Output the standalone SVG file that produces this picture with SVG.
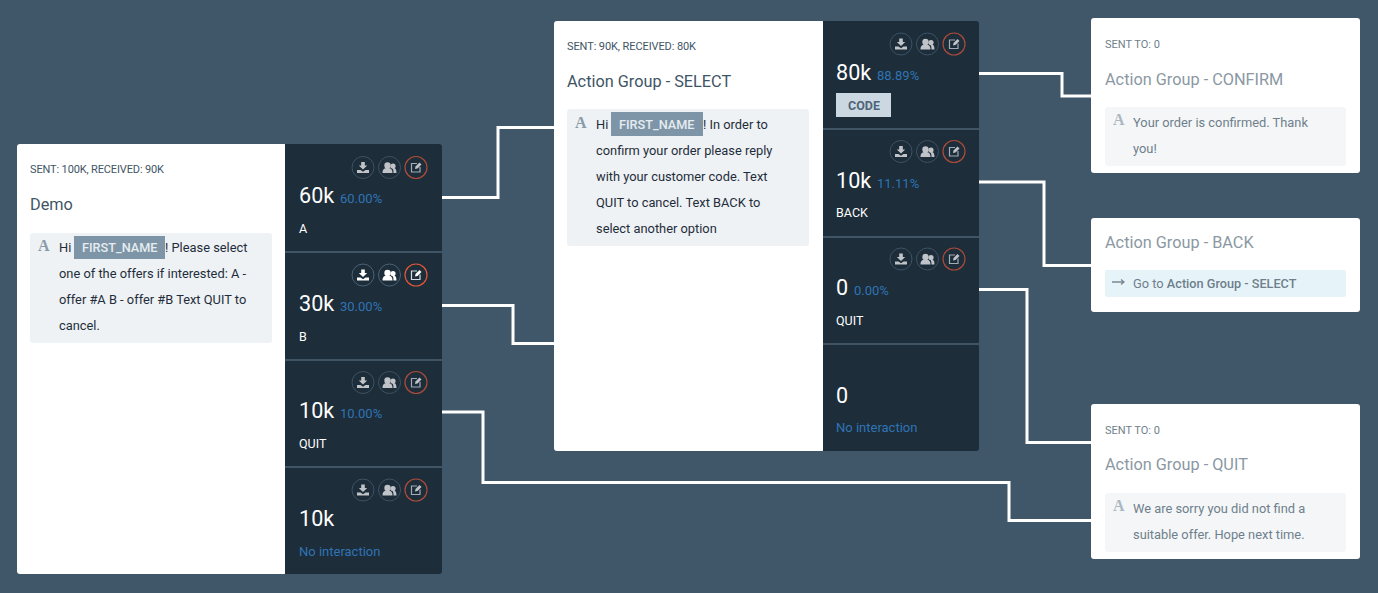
<svg xmlns="http://www.w3.org/2000/svg" width="1378" height="593" viewBox="0 0 1378 593">
<style>
text{font-family:Roboto,"Liberation Sans",sans-serif}
.sent{font-size:11px;fill:#3f5566}
.sentg{font-size:11px;fill:#6f7f8b}
.title{font-size:16.3px;fill:#3f5566}
.titleg{font-size:16.3px;fill:#8b98a3}
.body{font-size:12.85px;fill:#1f2d3a}
.bodyg{font-size:12.85px;fill:#6f7f8b}
.num{font-size:21.6px;fill:#fff}
.pct{font-size:13px;fill:#2f74b5}
.lab{font-size:12.5px;fill:#fff}
.noint{font-size:13px;fill:#2f74b5}
.tag{font-size:12.7px;font-weight:500;fill:#e6ecf0}
.a{font-family:"Liberation Serif",serif;font-size:16px;font-weight:700;fill:#8a9ba8}
.card{fill:#fff}
.panel{fill:#1d2d3a}
.msg{fill:#eef2f5}
.msgg{fill:#f4f6f8}
.sep{stroke:#3f5566;stroke-width:2}
.c{fill:none;stroke:#fff;stroke-width:3}
.ring{fill:none;stroke:#4a6274;stroke-width:1}
.ringr{fill:none;stroke:#e0583a;stroke-width:1.2}
.ic{fill:#fff}
.icl{fill:none;stroke:#d5dde4;stroke-width:1.200}
.dim{opacity:.72}
</style>
<defs>
<g id="icons">
<circle class="ring" cx="0" cy="0" r="11"/>
<path class="ic" d="M-1.800-5.500h3.600v3.500h2.400L0 2-4.200-2h2.400zM-6 2.500h3.500L0 4.200 2.500 2.500H6V5.500H-6z"/>
<circle class="ring" cx="26.500" cy="0" r="11"/>
<circle class="ic" cx="24.500" cy="-2" r="3.200"/><circle class="ic" cx="30" cy="-1.500" r="2.600"/>
<path class="ic" d="M19.500 5.500c0-4 2-5 5-5s5 1 5 5zM30.500 5.500c0-3-.5-4-1.500-5 3-.5 4.500 .5 4.500 5z"/>
<circle class="ringr" cx="53" cy="0" r="11"/>
<path class="icl" d="M54-4H48.500v8.500H57V-.5"/><path class="ic" d="M52 1.500l.5-2.500 4-4 2 2-4 4z"/>
</g>
</defs>
<rect width="1378" height="593" fill="#3f5769"/>
<g id="connectors">
<path class="c" d="M442 197.500H498V127.500H554"/>
<path class="c" d="M442 305.500H513V343.500H554"/>
<path class="c" d="M442 412H483V482.500H1009V520.500H1091"/>
<path class="c" d="M979 73.500H1062V96H1091"/>
<path class="c" d="M979 182H1044V265.500H1091"/>
<path class="c" d="M979 289.500H1027V442.500H1091"/>
</g>
<g id="node-demo">
<rect class="card" x="17" y="144" width="270" height="430" rx="3"/>
<path class="panel" d="M285 144H439a3 3 0 0 1 3 3V571a3 3 0 0 1-3 3H285z"/>
<text class="sent" x="30" y="173" textLength="134">SENT: 100K, RECEIVED: 90K</text>
<text class="title" x="30" y="210">Demo</text>
<rect class="msg" x="30" y="233" width="242" height="110" rx="3"/>
<text class="a" x="38" y="251">A</text>
<text class="body" x="59" y="252">Hi</text>
<rect x="74" y="236" width="91" height="23" fill="#7d95a7"/>
<text class="tag" x="82" y="252">FIRST_NAME</text>
<text class="body" x="165" y="252">! Please select</text>
<text class="body" x="59" y="278">one of the offers if interested: A -</text>
<text class="body" x="59" y="304">offer #A B - offer #B Text QUIT to</text>
<text class="body" x="59" y="330">cancel.</text>
<line class="sep" x1="285" y1="252" x2="442" y2="252"/>
<line class="sep" x1="285" y1="360" x2="442" y2="360"/>
<line class="sep" x1="285" y1="467" x2="442" y2="467"/>
<use class="dim" href="#icons" x="363" y="167.500"/><use href="#icons" x="363" y="275"/><use class="dim" href="#icons" x="363" y="382.500"/><use class="dim" href="#icons" x="363" y="490"/>
<text class="num" x="299" y="203">60k</text><text class="pct" x="340" y="203">60.00%</text><text class="lab" x="299" y="233">A</text>
<text class="num" x="299" y="311">30k</text><text class="pct" x="340" y="311">30.00%</text><text class="lab" x="299" y="341">B</text>
<text class="num" x="299" y="418">10k</text><text class="pct" x="340" y="418">10.00%</text><text class="lab" x="299" y="448">QUIT</text>
<text class="num" x="299" y="526">10k</text><text class="noint" x="299" y="556">No interaction</text>
</g>
<g id="node-select">
<rect class="card" x="554" y="21" width="271" height="430" rx="3"/>
<path class="panel" d="M823 21H976a3 3 0 0 1 3 3V448a3 3 0 0 1-3 3H823z"/>
<text class="sent" x="567" y="50" textLength="129">SENT: 90K, RECEIVED: 80K</text>
<text class="title" x="567" y="87">Action Group - SELECT</text>
<rect class="msg" x="567" y="109" width="242" height="137" rx="3"/>
<text class="a" x="575" y="128">A</text>
<text class="body" x="596" y="129">Hi</text>
<rect x="611" y="112" width="92" height="24" fill="#7d95a7"/>
<text class="tag" x="619" y="129">FIRST_NAME</text>
<text class="body" x="703" y="129">! In order to</text>
<text class="body" x="596" y="155">confirm your order please reply</text>
<text class="body" x="596" y="181">with your customer code. Text</text>
<text class="body" x="596" y="207">QUIT to cancel. Text BACK to</text>
<text class="body" x="596" y="233">select another option</text>
<line class="sep" x1="823" y1="129" x2="979" y2="129"/>
<line class="sep" x1="823" y1="237" x2="979" y2="237"/>
<line class="sep" x1="823" y1="344" x2="979" y2="344"/>
<use class="dim" href="#icons" x="901" y="44"/><use class="dim" href="#icons" x="901" y="151.500"/><use class="dim" href="#icons" x="901" y="259"/>
<text class="num" x="836" y="80">80k</text><text class="pct" x="877" y="80">88.89%</text>
<rect x="836" y="93" width="55" height="24" fill="#cbd8e2"/>
<text x="848" y="110" font-size="12.500" font-weight="700" fill="#4f6478">CODE</text>
<text class="num" x="836" y="188">10k</text><text class="pct" x="877" y="188">11.11%</text><text class="lab" x="836" y="217">BACK</text>
<text class="num" x="836" y="295">0</text><text class="pct" x="854" y="295">0.00%</text><text class="lab" x="836" y="325">QUIT</text>
<text class="num" x="836" y="403">0</text><text class="noint" x="836" y="432">No interaction</text>
</g>
<g id="node-confirm">
<rect class="card" x="1091" y="18" width="269" height="155" rx="3"/>
<text class="sentg" x="1105" y="48">SENT TO: 0</text>
<text class="titleg" x="1105" y="85">Action Group - CONFIRM</text>
<rect class="msgg" x="1105" y="107" width="241" height="59" rx="3"/>
<text class="a" x="1113" y="125" fill-opacity=".7">A</text>
<text class="bodyg" x="1133" y="127">Your order is confirmed. Thank</text>
<text class="bodyg" x="1133" y="153">you!</text>
</g>
<g id="node-back">
<rect class="card" x="1091" y="218" width="269" height="94" rx="3"/>
<text class="titleg" x="1105" y="248">Action Group - BACK</text>
<rect x="1105" y="270" width="241" height="27" rx="2" fill="#e6f4fa"/>
<path d="M1112 282H1124M1121 279.500l3 2.500-3 2.500" fill="none" stroke="#7b8893" stroke-width="1.300"/>
<text class="bodyg" x="1133" y="288">Go to <tspan font-weight="500" font-size="12.700">Action Group - SELECT</tspan></text>
</g>
<g id="node-quit">
<rect class="card" x="1091" y="404" width="269" height="155" rx="3"/>
<text class="sentg" x="1105" y="434">SENT TO: 0</text>
<text class="titleg" x="1105" y="470">Action Group - QUIT</text>
<rect class="msgg" x="1105" y="493" width="241" height="59" rx="3"/>
<text class="a" x="1113" y="511" fill-opacity=".7">A</text>
<text class="bodyg" x="1133" y="513">We are sorry you did not find a</text>
<text class="bodyg" x="1133" y="539">suitable offer. Hope next time.</text>
</g>
</svg>
